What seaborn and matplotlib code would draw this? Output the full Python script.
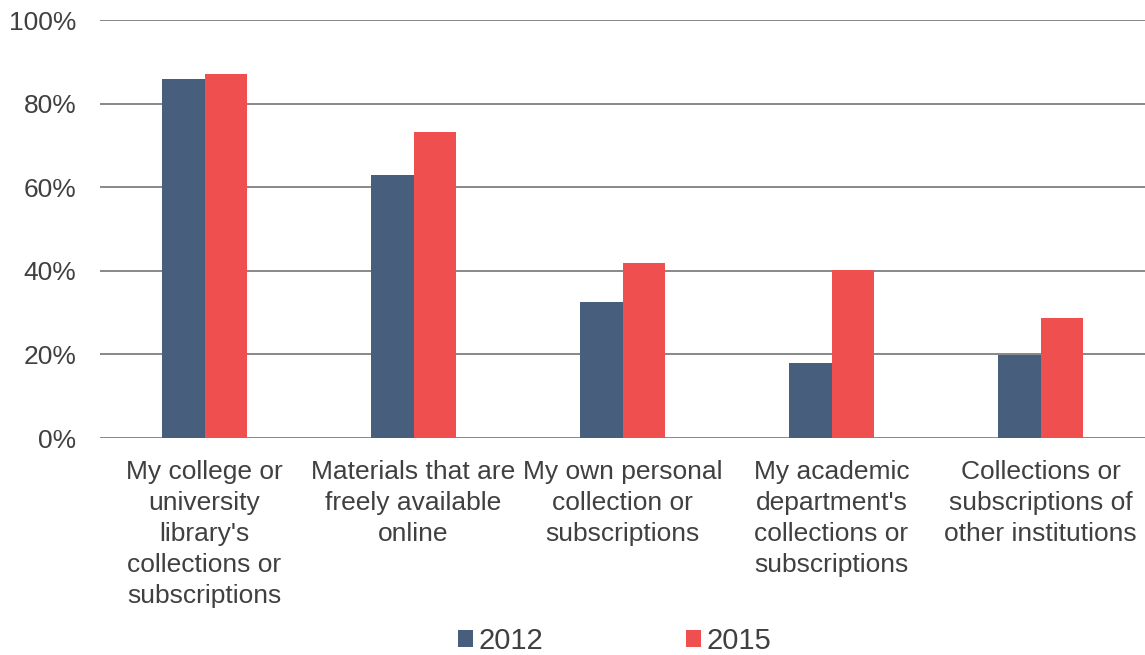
import pandas as pd
import matplotlib.pyplot as plt
import seaborn as sns
from matplotlib.ticker import PercentFormatter

# Data
categories = [
    "My college or\nuniversity\nlibrary's\ncollections or\nsubscriptions",
    "Materials that are\nfreely available\nonline",
    "My own personal\ncollection or\nsubscriptions",
    "My academic\ndepartment's\ncollections or\nsubscriptions",
    "Collections or\nsubscriptions of\nother institutions",
]
years = ["2012", "2015"]
values_2012 = [86.0, 62.9, 32.6, 17.9, 19.9]
values_2015 = [87.1, 73.2, 41.8, 40.2, 28.6]

df = pd.DataFrame({
    "category": categories * 2,
    "year": [years[0]] * 5 + [years[1]] * 5,
    "value": values_2012 + values_2015,
})

sns.set_style("white")
plt.rcParams['font.family'] = ['Liberation Sans', 'DejaVu Sans']

fig = plt.figure(figsize=(11.45, 6.55), dpi=100)
ax = fig.add_axes([100 / 1145, 1 - 438 / 655, 1 - 100 / 1145, (438 - 20) / 655])

palette = {"2012": "#485e7d", "2015": "#ef504f"}
sns.barplot(data=df, x="category", y="value", hue="year", palette=palette,
            width=0.41, saturation=1, linewidth=0, ax=ax, legend=True)

ax.set_ylim(0, 100)
ax.set_xlim(-0.5, 4.5)
ax.set_yticks([0, 20, 40, 60, 80, 100])
ax.yaxis.set_major_formatter(PercentFormatter(decimals=0))
ax.yaxis.grid(True, color="#7f7f7f", linewidth=1.3)
ax.set_axisbelow(True)
for s in ax.spines.values():
    s.set_visible(False)
ax.set_xlabel("")
ax.set_ylabel("")
ax.tick_params(axis="both", length=0, labelsize=19, labelcolor="#404040")
ax.tick_params(axis="x", pad=16)
ax.tick_params(axis="y", pad=17)
for lbl in ax.get_xticklabels():
    lbl.set_linespacing(1.37)

handles, labels = ax.get_legend_handles_labels()
ax.get_legend().remove()
fig.legend(handles, labels, loc="lower center", bbox_to_anchor=(0.537, -0.04),
           ncol=2, frameon=False, fontsize=21, labelcolor="#404040",
           columnspacing=4.9, handlelength=0.5, handleheight=0.5, handletextpad=0.2)

fig.savefig("out.png", dpi=100)
